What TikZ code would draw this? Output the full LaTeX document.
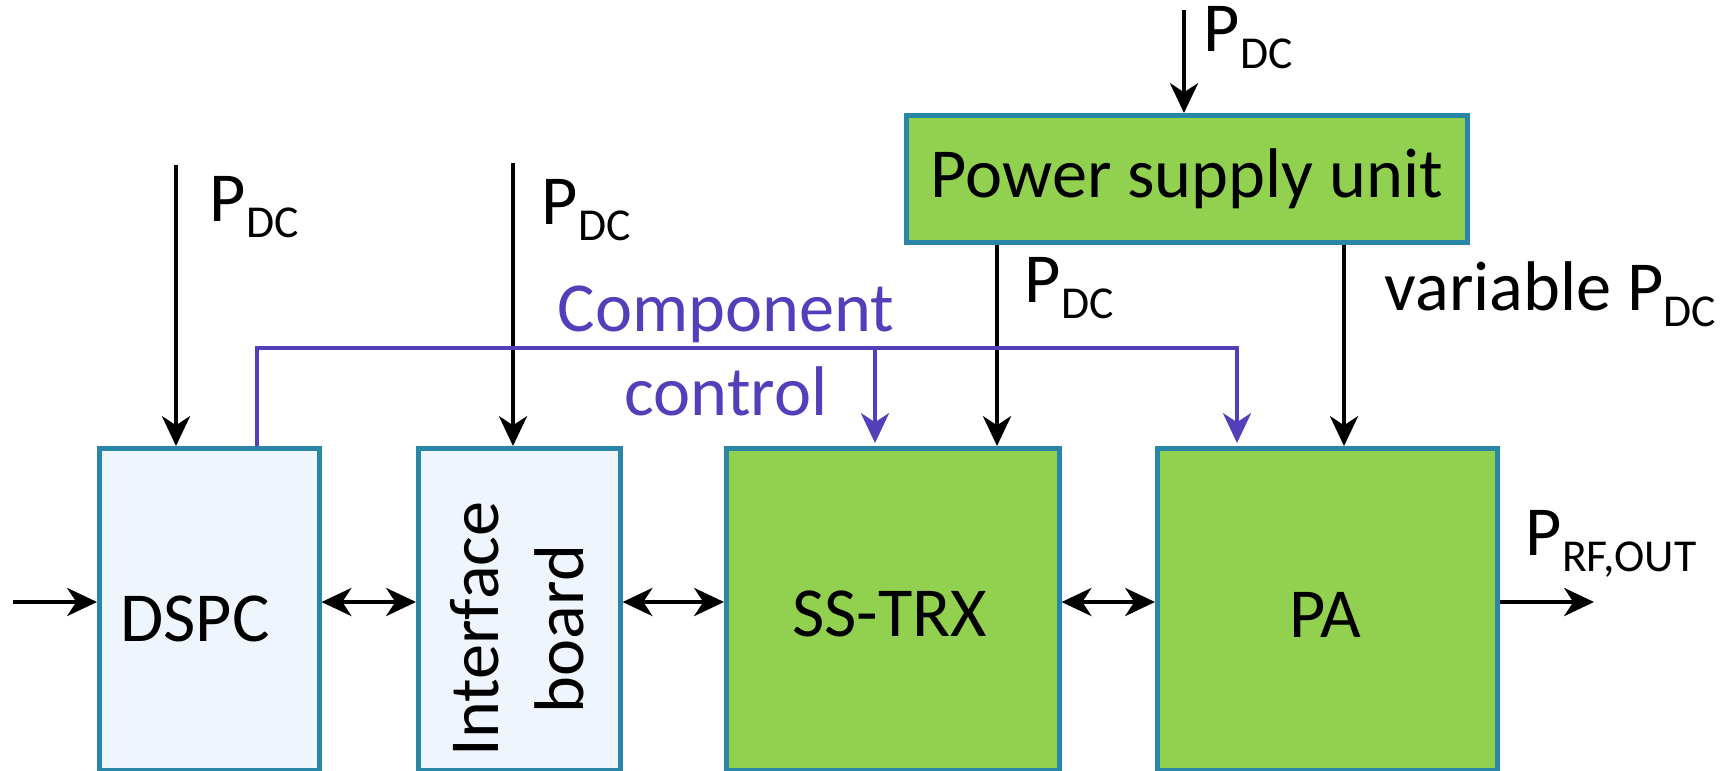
\documentclass[tikz,border=0pt]{standalone}
\usepackage{fontspec}
\setmainfont{Carlito}
\usetikzlibrary{arrows.meta,positioning}
\definecolor{lightbox}{HTML}{EEF5FC}
\definecolor{edge}{HTML}{2A86A6}
\definecolor{leaf}{HTML}{92D050}
\definecolor{ctrl}{HTML}{553EBA}
\newcommand{\subtxt}[1]{\raisebox{-4.8pt}{\fontsize{13}{13}\selectfont #1}}

\begin{document}
\begin{tikzpicture}[
  font=\fontsize{20}{24}\selectfont,
  >={Stealth[length=8.5pt,width=8pt,inset=2.6pt]},
  block/.style={draw=edge, line width=1.3pt, inner sep=0pt, anchor=north west},
  paleblock/.style={block, fill=lightbox},
  greenblock/.style={block, fill=leaf},
  wire/.style={line width=1.1pt},
  ctrlwire/.style={wire, draw=ctrl},
  pin/.style={inner sep=0pt, anchor=base west},
]
\useasboundingbox (0,0) rectangle (17.27,7.70);
\def\sigy{1.68}
% --- blocks ---
\node[paleblock, minimum width=2.20cm, minimum height=3.22cm] (dspc) at (0.97,3.24) {};
\node[paleblock, minimum width=2.02cm, minimum height=3.22cm] (iface) at (4.16,3.24) {};
\node[greenblock, minimum width=3.33cm, minimum height=3.22cm] (trx) at (7.24,3.24) {};
\node[greenblock, minimum width=3.40cm, minimum height=3.22cm] (pa) at (11.55,3.24) {};
\node[greenblock, minimum width=5.61cm, minimum height=1.27cm] (psu) at (9.04,6.57) {Power supply unit};
% block texts
\node (dspclbl) at (1.95,1.51) {DSPC};
\node[rotate=90, align=center] (ifacelbl) at (5.17,1.41) {Interface\\board};
\node (trxlbl) at (8.90,1.56) {SS-TRX};
\node (palbl) at (13.25,1.55) {PA};
% --- signal chain ---
\coordinate (src) at (0.13,\sigy);
\coordinate (sink) at (15.94,\sigy);
\draw[wire,->] (src) -- (dspc.west |- src);
\draw[wire,<->] (dspc.east |- src) -- (iface.west |- src);
\draw[wire,<->] (iface.east |- src) -- (trx.west |- src);
\draw[wire,<->] (trx.east |- src) -- (pa.west |- src);
\draw[wire,->] (pa.east |- src) -- (sink);
\node[pin] (pout) at (15.25,2.15) {P\subtxt{RF,OUT}};
% --- DC supplies ---
\coordinate (dspcin) at (1.76,6.05);
\coordinate (ifacein) at (5.13,6.07);
\coordinate (psuin) at (11.84,7.60);
\coordinate (trxfeed) at (9.97,0);
\coordinate (pafeed) at (13.44,0);
\draw[wire,->] (dspcin) -- (dspcin |- dspc.north);
\draw[wire,->] (ifacein) -- (ifacein |- iface.north);
\draw[wire,->] (psuin) -- (psuin |- psu.north);
\draw[wire,->] (trxfeed |- psu.south) -- (trxfeed |- trx.north);
\draw[wire,->] (pafeed |- psu.south) -- (pafeed |- pa.north);
\node[pin] (pdspc) at (2.09,5.49) {P\subtxt{DC}};
\node[pin] (piface) at (5.41,5.46) {P\subtxt{DC}};
\node[pin] (ppsu) at (12.03,7.18) {P\subtxt{DC}};
\node[pin] (ptrx) at (10.24,4.68) {P\subtxt{DC}};
\node[pin] (ppa) at (13.84,4.60) {variable P\subtxt{DC}};
% --- component control ---
\coordinate (bus) at (2.57,4.22);
\coordinate (busend) at (12.37,4.22);
\coordinate (bustap) at (8.75,4.22);
\coordinate (patip) at (12.37,3.27);
\coordinate (trxtip) at (8.75,3.27);
\draw[ctrlwire,->] (dspc.north -| bus) -- (bus) -- (busend) -- (patip);
\draw[ctrlwire,->] (bustap) -- (trxtip);
\node[align=center, text=ctrl, inner sep=0pt] (ctrllbl) at (7.26,4.19) {Component\\control};
\end{tikzpicture}
\end{document}
